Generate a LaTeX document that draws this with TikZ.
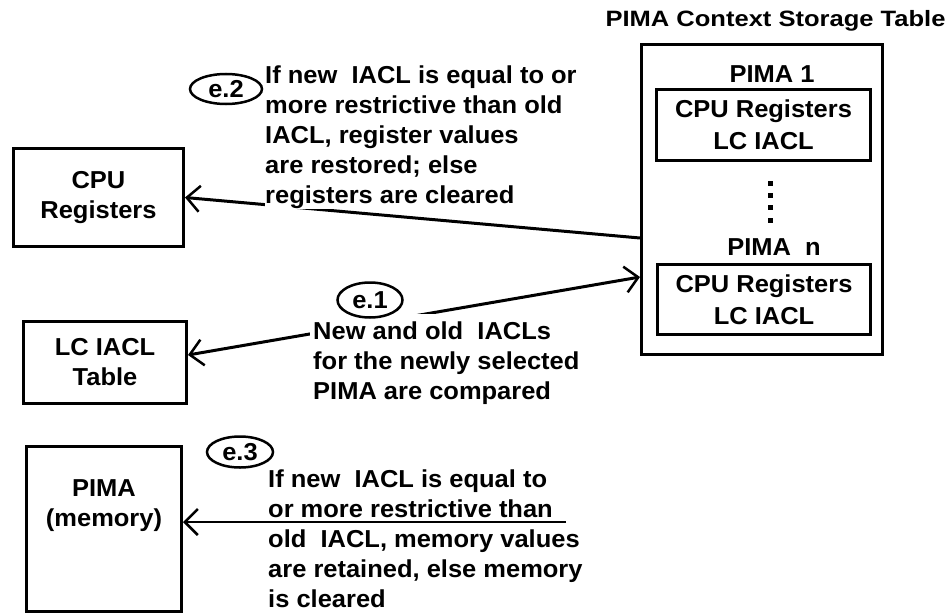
\documentclass[tikz,border=0pt]{standalone}
\usepackage{fontspec}
\setmainfont{Liberation Sans}[FakeStretch=1.04]
\newfontfamily\headfont{Liberation Sans}[FakeStretch=1.15]
\usetikzlibrary{arrows.meta,shapes.geometric}
\begin{document}
\begin{tikzpicture}[x=1pt,y=-1pt,
  lbl/.style={font=\fontsize{24.5}{30}\selectfont\bfseries},
  txt/.style={lbl, inner sep=0pt, align=left, anchor=north west},
  box/.style={lbl, draw, line width=3pt, inner sep=0pt, align=center},
  tag/.style={lbl, draw, ellipse, line width=2.5pt, fill=white, inner sep=0pt},
  conn/.style={line width=3pt},
  barb/.tip={Straight Barb[length=13pt,width=26pt,line width=2.5pt]},
  dotmark/.style={fill=black}]
\useasboundingbox (0,0) rectangle (949,615);

% left-hand blocks
\node[box, minimum width=170pt, minimum height=98pt] (cpu) at (98.5,197.5) {CPU\\Registers};
\node[box, minimum width=163pt, minimum height=82pt] (lct) at (105,362.5) {LC IACL\\Table};
\node[box, minimum width=155pt, minimum height=165pt] (mem) at (104,529) {};
\node[lbl, align=center] (memlbl) at (104,506) {PIMA\\(memory)};

% context storage table
\node[font=\headfont\bfseries\fontsize{22.2}{26}\selectfont] (title) at (775.5,21) {PIMA Context Storage Table};
\node[draw, line width=3pt, minimum width=241pt, minimum height=310pt, inner sep=0pt] (store) at (762,199.5) {};
\node[lbl] (p1) at (772,74) {PIMA 1};
\node[box, minimum width=214pt, minimum height=71pt, font=\fontsize{24.5}{32}\selectfont\bfseries] (in1) at (763.5,125) {CPU Registers\\LC IACL};
\node[lbl] (pn) at (774,247) {PIMA\ \ n};
\node[box, minimum width=213pt, minimum height=70pt, font=\fontsize{24.5}{32}\selectfont\bfseries] (inn) at (764,299.5) {CPU Registers\\LC IACL};
\foreach \yy in {183,195,207,220}
  \fill[dotmark] (767.5,\yy-2.5) rectangle ++(5,5);

% connectors
\coordinate (s2) at (640,238);
\coordinate (s1) at (640,277);
\coordinate (m3) at (566,522);
\draw[conn, -barb] (s2) -- (cpu.east);
\draw[conn, barb-barb] ([yshift=7.5pt]lct.east) -- (s1);
\draw[line width=2pt, -barb] (m3) -- (mem.east |- m3);

% explanatory texts
\node[txt, fill=white] (t2) at (265,66) {If new\ \ IACL is equal to or\\more restrictive than old\\IACL, register values\\are restored; else\\registers are cleared};
\node[txt, fill=white, inner xsep=3pt, inner ysep=8pt] (t1) at (310,314) {New and old\ \ IACLs\\for the newly selected\\PIMA are compared};
\node[txt] (t3) at (268,470) {If new\ \ IACL is equal to\\or more restrictive than\\old\ \ IACL, memory values\\are retained, else memory\\is cleared};

% step tags
\node[tag, minimum width=72pt, minimum height=30pt] (e2) at (226,89) {e.2};
\node[tag, minimum width=65pt, minimum height=35pt] (e1) at (370,300) {e.1};
\node[tag, minimum width=66pt, minimum height=31pt] (e3) at (240,452) {e.3};
\end{tikzpicture}
\end{document}
